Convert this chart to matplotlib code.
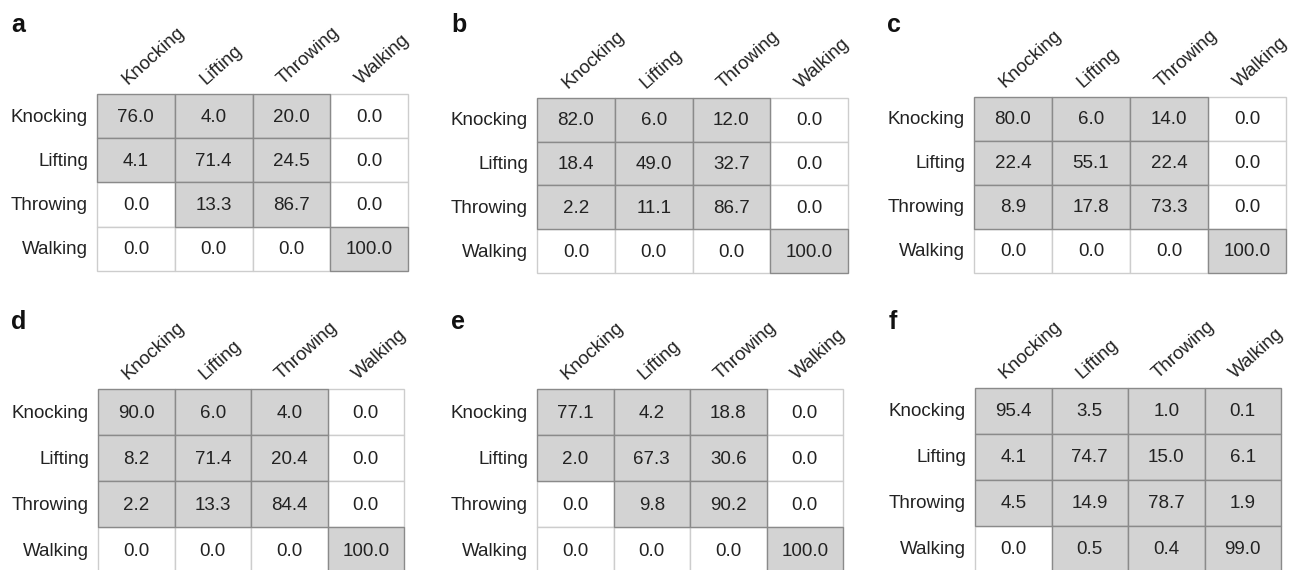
import matplotlib
matplotlib.use("Agg")
import matplotlib.pyplot as plt
from matplotlib.patches import Rectangle

plt.rcParams['font.family'] = ['Liberation Sans', 'DejaVu Sans']

classes = ["Knocking", "Lifting", "Throwing", "Walking"]

conf_a = [[76.0, 4.0, 20.0, 0.0],
          [4.1, 71.4, 24.5, 0.0],
          [0.0, 13.3, 86.7, 0.0],
          [0.0, 0.0, 0.0, 100.0]]
conf_b = [[82.0, 6.0, 12.0, 0.0],
          [18.4, 49.0, 32.7, 0.0],
          [2.2, 11.1, 86.7, 0.0],
          [0.0, 0.0, 0.0, 100.0]]
conf_c = [[80.0, 6.0, 14.0, 0.0],
          [22.4, 55.1, 22.4, 0.0],
          [8.9, 17.8, 73.3, 0.0],
          [0.0, 0.0, 0.0, 100.0]]
conf_d = [[90.0, 6.0, 4.0, 0.0],
          [8.2, 71.4, 20.4, 0.0],
          [2.2, 13.3, 84.4, 0.0],
          [0.0, 0.0, 0.0, 100.0]]
conf_e = [[77.1, 4.2, 18.8, 0.0],
          [2.0, 67.3, 30.6, 0.0],
          [0.0, 9.8, 90.2, 0.0],
          [0.0, 0.0, 0.0, 100.0]]
conf_f = [[95.4, 3.5, 1.0, 0.1],
          [4.1, 74.7, 15.0, 6.1],
          [4.5, 14.9, 78.7, 1.9],
          [0.0, 0.5, 0.4, 99.0]]

panel_letters = ["a", "b", "c", "d", "e", "f"]
matrices = [conf_a, conf_b, conf_c, conf_d, conf_e, conf_f]

W, H = 1297, 570
fig = plt.figure(figsize=(W / 100, H / 100), dpi=100)
fig.patch.set_facecolor("white")

# grid box (left, right, top, bottom) in pixels, and letter position
boxes = [(97, 408, 94, 271), (537, 848, 98, 273), (974, 1286, 97, 273),
         (98, 404, 389, 573), (537, 843, 389, 573), (975, 1281, 388, 572)]
letter_pos = [(11, 32), (451, 32), (887, 32), (11, 329), (451, 329), (889, 329)]

FILL = "#d3d3d3"
EDGE_DARK = "#8a8a8a"
EDGE_LIGHT = "#cdcdcd"
TXT = "#222222"
FS = 13.5

for letter, mat, box, lp in zip(panel_letters, matrices, boxes, letter_pos):
    l, r, t, b = box
    ax = fig.add_axes([l / W, 1 - b / H, (r - l) / W, (b - t) / H])
    n = len(classes)
    ax.set_xlim(0, n)
    ax.set_ylim(n, 0)
    ax.axis("off")
    # white cells first so darker borders of shaded cells sit on top
    for pass_shaded in (False, True):
        for i in range(n):
            for j in range(n):
                v = mat[i][j]
                shaded = v > 0
                if shaded != pass_shaded:
                    continue
                ax.add_patch(Rectangle((j, i), 1, 1,
                                       facecolor=FILL if shaded else "white",
                                       edgecolor=EDGE_DARK if shaded else EDGE_LIGHT,
                                       linewidth=1.0, clip_on=False,
                                       zorder=2 if shaded else 1))
    rh = (b - t) / n
    cw = (r - l) / n
    for i in range(n):
        for j in range(n):
            fig.text((l + (j + 0.5) * cw) / W, 1 - (t + (i + 0.5) * rh + 1) / H,
                     f"{mat[i][j]:.1f}", ha="center", va="center",
                     fontsize=FS, color=TXT, zorder=3)
    # row labels
    for i, name in enumerate(classes):
        fig.text((l - 9) / W, 1 - (t + (i + 0.5) * rh + 1) / H, name,
                 ha="right", va="center", fontsize=FS, color=TXT)
    # rotated column labels
    for j, name in enumerate(classes):
        fig.text((l + (j + 0.5) * cw - 8) / W, 1 - (t - 9) / H, name,
                 ha="left", va="baseline", rotation=42, rotation_mode="anchor",
                 fontsize=FS, color=TXT)
    fig.text(lp[0] / W, 1 - lp[1] / H, letter, ha="left", va="baseline",
             fontsize=18, fontweight="bold", color="#111111")

fig.savefig("out.png", dpi=100, facecolor="white")
